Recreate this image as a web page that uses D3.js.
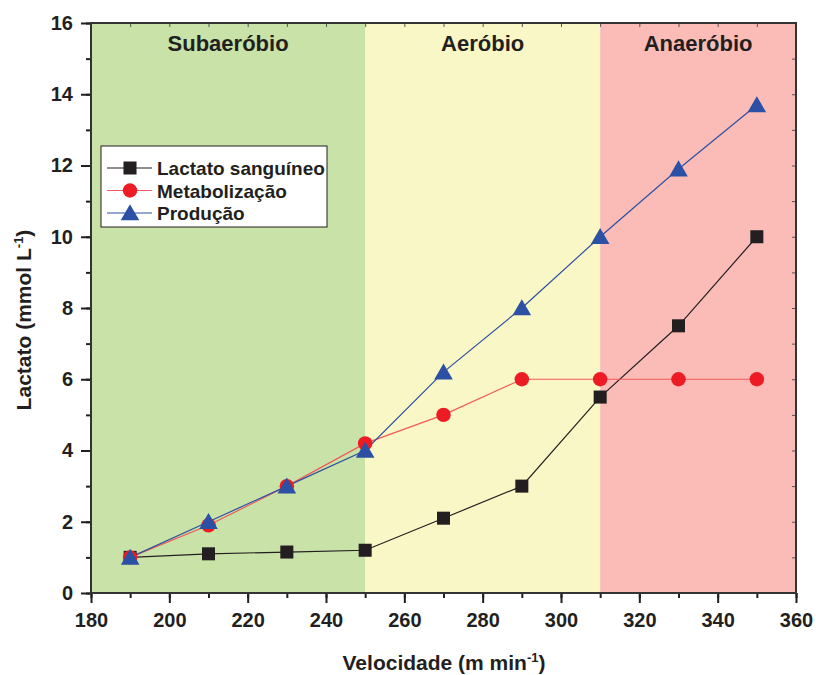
<!DOCTYPE html>
<html>
<head>
<meta charset="utf-8">
<script src="https://cdn.jsdelivr.net/npm/d3@7"></script>
<style>
  body { margin: 0; background: #fff; }
  svg { display: block; font-family: "Liberation Sans", Arial, sans-serif; }
</style>
</head>
<body>
<svg id="chart" width="816" height="675"></svg>
<script>
// Speed (m/min) and lactate curves
const velocidade = [190, 210, 230, 250, 270, 290, 310, 330, 350];
const lactatoSanguineo = [1.0, 1.1, 1.15, 1.2, 2.1, 3.0, 5.5, 7.5, 10.0];
const metabolizacao = [1.0, 1.9, 3.0, 4.2, 5.0, 6.0, 6.0, 6.0, 6.0];
const producao = [1.0, 2.0, 3.0, 4.0, 6.2, 8.0, 10.0, 11.9, 13.7];

// Intensity zones
const zoneNames = ["Subaeróbio", "Aeróbio", "Anaeróbio"];
const zoneStarts = [180, 250, 310];
const zoneEnds = [250, 310, 360];
const zoneColors = ["#c8e2a7", "#faf7c7", "#fbbcb8"];

const xTicks = [180, 200, 220, 240, 260, 280, 300, 320, 340, 360];
const yTicks = [0, 2, 4, 6, 8, 10, 12, 14, 16];

const svg = d3.select("#chart");
const plotL = 91, plotR = 796, plotT = 23, plotB = 593;

const x = d3.scaleLinear().domain([180, 360]).range([plotL, plotR]);
const y = d3.scaleLinear().domain([0, 16]).range([plotB, plotT]);

// zone backgrounds
svg.append("g").selectAll("rect").data(zoneNames).join("rect")
  .attr("x", (d, i) => x(zoneStarts[i]))
  .attr("y", plotT)
  .attr("width", (d, i) => x(zoneEnds[i]) - x(zoneStarts[i]))
  .attr("height", plotB - plotT)
  .attr("fill", (d, i) => zoneColors[i]);

svg.append("g").selectAll("text").data(zoneNames).join("text")
  .attr("x", (d, i) => (x(zoneStarts[i]) + x(zoneEnds[i])) / 2)
  .attr("y", 51)
  .attr("text-anchor", "middle")
  .attr("font-size", 22)
  .attr("font-weight", "bold")
  .attr("fill", "#231f20")
  .text(d => d);

// axes
const axisColor = "#231f20";
const xMinor = d3.range(180, 361, 10);
const yMinor = d3.range(0, 16.01, 1);

function styleAxis(g) {
  g.select(".domain").remove();
  g.selectAll("line").attr("stroke", axisColor).attr("stroke-width", 2);
  g.selectAll("text").attr("fill", axisColor).attr("font-size", 20).attr("font-weight", "bold");
}

// bottom minor + major
svg.append("g").attr("transform", `translate(0,${plotB})`)
  .call(d3.axisBottom(x).tickValues(xMinor).tickSize(5).tickFormat(""))
  .call(styleAxis);
svg.append("g").attr("transform", `translate(0,${plotB})`)
  .call(d3.axisBottom(x).tickValues(xTicks).tickSize(10).tickPadding(10).tickFormat(d3.format("d")))
  .call(styleAxis);

// left minor + major
svg.append("g").attr("transform", `translate(${plotL},0)`)
  .call(d3.axisLeft(y).tickValues(yMinor).tickSize(5).tickFormat(""))
  .call(styleAxis);
svg.append("g").attr("transform", `translate(${plotL},0)`)
  .call(d3.axisLeft(y).tickValues(yTicks).tickSize(10).tickPadding(8).tickFormat(d3.format("d")))
  .call(styleAxis);

// top and right inward ticks
svg.append("g").attr("transform", `translate(0,${plotT})`)
  .call(d3.axisTop(x).tickValues(xMinor).tickSize(-4).tickFormat(""))
  .call(g => { g.select(".domain").remove(); g.selectAll("line").attr("stroke", "#555").attr("stroke-width", 1); });
svg.append("g").attr("transform", `translate(${plotR},0)`)
  .call(d3.axisRight(y).tickValues(yMinor).tickSize(-4).tickFormat(""))
  .call(g => { g.select(".domain").remove(); g.selectAll("line").attr("stroke", "#555").attr("stroke-width", 1); });

// frame
svg.append("rect")
  .attr("x", plotL).attr("y", plotT)
  .attr("width", plotR - plotL).attr("height", plotB - plotT)
  .attr("fill", "none").attr("stroke", "#333").attr("stroke-width", 2);

// axis titles
const xt = svg.append("text")
  .attr("x", 444).attr("y", 670)
  .attr("text-anchor", "middle").attr("font-size", 21).attr("font-weight", "bold").attr("fill", axisColor);
xt.append("tspan").text("Velocidade (m min");
xt.append("tspan").attr("dy", -8).attr("font-size", 13).text("-1");
xt.append("tspan").attr("dy", 8).text(")");

const yt = svg.append("text")
  .attr("transform", `translate(31,320) rotate(-90)`)
  .attr("text-anchor", "middle").attr("font-size", 21).attr("font-weight", "bold").attr("fill", axisColor);
yt.append("tspan").text("Lactato (mmol L");
yt.append("tspan").attr("dy", -8).attr("font-size", 13).text("-1");
yt.append("tspan").attr("dy", 8).text(")");

// series
const series = [
  { name: "Lactato sanguíneo", values: lactatoSanguineo, line: "#231f20", fill: "#231f20", shape: d3.symbolSquare, size: 170 },
  { name: "Metabolização", values: metabolizacao, line: "#f05a5a", fill: "#ed1c24", shape: d3.symbolCircle, size: 165 },
  { name: "Produção", values: producao, line: "#2e50a3", fill: "#2b50a4", shape: d3.symbolTriangle, size: 150 }
];

const line = d3.line().x(d => x(d[0])).y(d => y(d[1]));

// lines first, then markers on top
series.forEach(s => {
  const pts = velocidade.map((v, i) => [v, s.values[i]]);
  svg.append("path").datum(pts)
    .attr("d", line).attr("fill", "none")
    .attr("stroke", s.line).attr("stroke-width", 1.2);
});
series.forEach(s => {
  const pts = velocidade.map((v, i) => [v, s.values[i]]);
  svg.append("g").selectAll("path").data(pts).join("path")
    .attr("transform", d => `translate(${x(d[0])},${y(d[1]) + (s.shape === d3.symbolTriangle ? 2 : 0)})`)
    .attr("d", d3.symbol().type(s.shape).size(s.size))
    .attr("fill", s.fill);
});

// legend
const lg = svg.append("g").attr("transform", "translate(101,146)");
lg.append("rect").attr("width", 226).attr("height", 81)
  .attr("fill", "#fff").attr("stroke", "#231f20").attr("stroke-width", 1);
series.forEach((s, i) => {
  const cy = 22 + i * 22.5;
  lg.append("line").attr("x1", 6).attr("x2", 51).attr("y1", cy).attr("y2", cy)
    .attr("stroke", s.line).attr("stroke-width", 1.2);
  lg.append("path")
    .attr("transform", `translate(29,${cy + (s.shape === d3.symbolTriangle ? 2 : 0)})`)
    .attr("d", d3.symbol().type(s.shape).size(s.size))
    .attr("fill", s.fill);
  lg.append("text").attr("x", 56).attr("y", cy + 7)
    .attr("font-size", 19).attr("font-weight", "bold").attr("fill", "#231f20")
    .text(s.name);
});
</script>
</body>
</html>
